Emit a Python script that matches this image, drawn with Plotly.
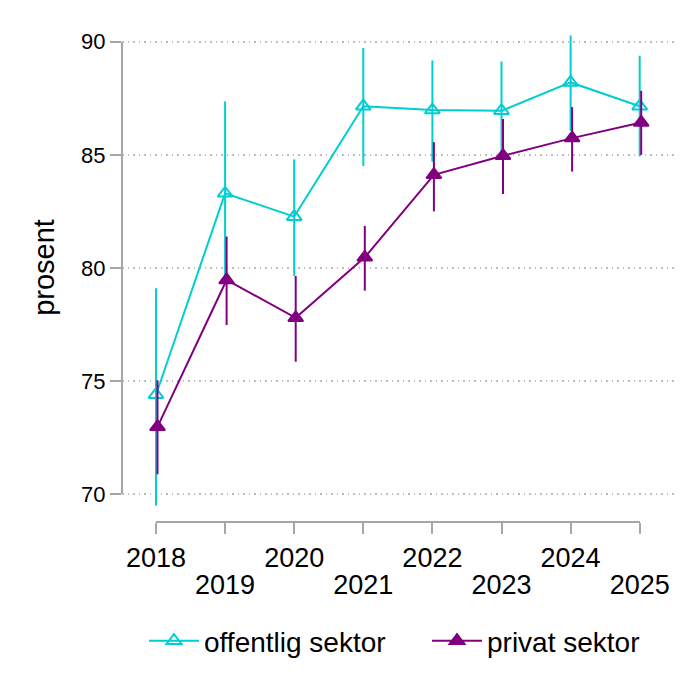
import plotly.graph_objects as go

years = [2018, 2019, 2020, 2021, 2022, 2023, 2024, 2025]

off_val = [74.4, 83.3, 82.27, 87.15, 86.98, 86.95, 88.2, 87.15]
off_hi = [79.1, 87.36, 84.8, 89.72, 89.17, 89.13, 90.28, 89.38]
off_lo = [69.5, 79.25, 79.65, 84.51, 84.7, 84.8, 86.06, 84.93]

priv_val = [72.98, 79.47, 77.8, 80.47, 84.12, 84.96, 85.74, 86.43]
priv_hi = [75.04, 81.39, 79.65, 81.86, 85.56, 86.58, 87.11, 87.83]
priv_lo = [70.88, 77.48, 75.86, 79.0, 82.5, 83.27, 84.26, 85.0]

y_ticks = [70, 75, 80, 85, 90]
series_names = ["offentlig sektor", "privat sektor"]

W, H = 689, 696
OFF = 8  # page body margin
FONT = "Liberation Sans, Arial, sans-serif"
CYAN = "#00CED1"
PURPLE = "#800080"
AXCOL = "#A6A6A6"

def px_x(p):
    return (p - OFF) / W

def px_y(p):
    return 1 - (p - OFF) / H

# pixel geometry
x0_px, step_px = 156.0, 69.1
y90_px, unit_px = 41.7, 22.63
dodge_px = 1.5  # small dodge of the second series

def xval(p):
    return years[0] + (p - x0_px) / step_px

def yval(p):
    return 90 - (p - y90_px) / unit_px

fig = go.Figure()

def add_series(name, vals, hi, lo, color, symbol, xref, legend):
    fig.add_trace(go.Scatter(
        x=years, y=vals, name=name, mode="lines+markers",
        line=dict(color=color, width=2),
        marker=dict(symbol=symbol, size=13, color=color, line=dict(color=color, width=2)),
        error_y=dict(type="data", symmetric=False,
                     array=[h - v for h, v in zip(hi, vals)],
                     arrayminus=[v - l for l, v in zip(lo, vals)],
                     color=color, thickness=2, width=0),
        xaxis=xref, yaxis="y", legend=legend,
    ))

add_series(series_names[0], off_val, off_hi, off_lo, CYAN, "triangle-up-open", "x", "legend")
add_series(series_names[1], priv_val, priv_hi, priv_lo, PURPLE, "triangle-up", "x4", "legend2")

# empty traces to create offset-axis subplots
fig.add_trace(go.Scatter(x=[], y=[], xaxis="x2", yaxis="y2", showlegend=False, hoverinfo="skip"))
fig.add_trace(go.Scatter(x=[], y=[], xaxis="x3", yaxis="y2", showlegend=False, hoverinfo="skip"))

even_text = [str(y) if y % 2 == 0 else "" for y in years]
odd_vals = [y for y in years if y % 2 == 1]

hidden_x = dict(showgrid=False, zeroline=False, showline=False, ticks="",
                showticklabels=False, fixedrange=True)

legend_style = dict(orientation="h", xanchor="left", y=px_y(641), yanchor="middle",
                    font=dict(size=28, family=FONT), itemwidth=50,
                    bgcolor="rgba(0,0,0,0)")

fig.update_layout(
    width=W, height=H,
    margin=dict(l=0, r=0, t=0, b=0),
    paper_bgcolor="white", plot_bgcolor="rgba(0,0,0,0)",
    font=dict(family=FONT, color="black"),
    showlegend=True,
    legend=dict(x=px_x(144), **legend_style),
    legend2=dict(x=px_x(427), **legend_style),
    xaxis=dict(domain=[px_x(122), px_x(674)], range=[xval(122), xval(674)], **hidden_x),
    xaxis4=dict(overlaying="x", anchor="y",
                range=[xval(122 - dodge_px), xval(674 - dodge_px)], **hidden_x),
    yaxis=dict(domain=[px_y(510), px_y(25)], range=[yval(510), yval(25)],
               tickvals=y_ticks, ticks="outside", ticklen=11, tickwidth=2, tickcolor=AXCOL,
               tickfont=dict(size=22, family=FONT), showline=False, zeroline=False,
               showgrid=True, gridcolor="#BDBDBD", griddash="1.5px,4px", gridwidth=1.5,
               title=dict(text="prosent", font=dict(size=29, family=FONT), standoff=17),
               automargin=False),
    xaxis2=dict(domain=[px_x(x0_px), px_x(x0_px + 7 * step_px)], range=[years[0], years[-1]],
                anchor="free", position=px_y(522.3), showline=True, linecolor=AXCOL, linewidth=2,
                tickvals=years, ticktext=even_text, ticks="outside", ticklen=11, tickwidth=2,
                tickcolor=AXCOL, tickfont=dict(size=27, family=FONT), showgrid=False,
                zeroline=False, automargin=False),
    xaxis3=dict(overlaying="x2", range=[years[0], years[-1]],
                anchor="free", position=px_y(522.3), showline=False, ticks="",
                tickvals=odd_vals, ticktext=[str(v) for v in odd_vals],
                tickfont=dict(size=27, family=FONT), ticklabelstandoff=44,
                showgrid=False, zeroline=False, automargin=False, side="bottom"),
    yaxis2=dict(domain=[px_y(494.3), px_y(y90_px)], range=[70, 90], anchor="free",
                position=px_x(122), showline=True, linecolor=AXCOL, linewidth=2,
                ticks="", showticklabels=False, showgrid=False, zeroline=False,
                automargin=False),
)

fig.write_html("out.html")
